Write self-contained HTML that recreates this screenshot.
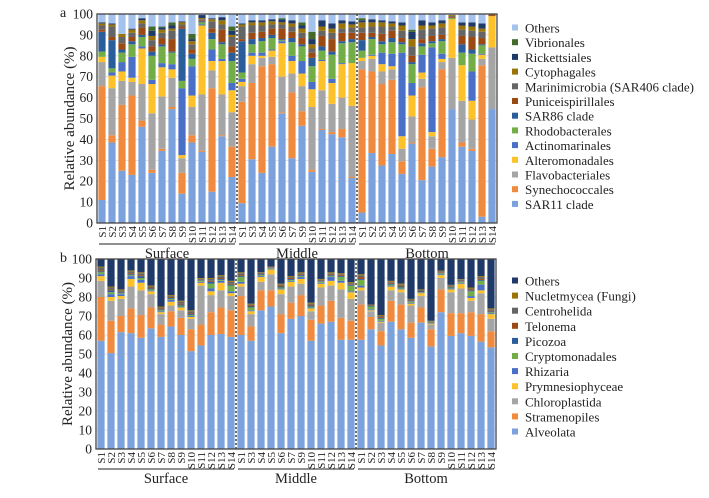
<!DOCTYPE html>
<html><head><meta charset="utf-8"><style>
html,body{margin:0;padding:0;background:#fff;}
svg{display:block;font-family:"Liberation Serif",serif;}
</style></head><body>
<svg id="chart" width="709" height="498" viewBox="0 0 709 498" xmlns="http://www.w3.org/2000/svg"></svg>
<script>
// ---- shared categories ----
const samplesS = ["S1","S2","S3","S4","S5","S6","S7","S8","S9","S10","S11","S12","S13","S14"];
const samplesM = ["S1","S3","S4","S5","S6","S7","S9","S10","S11","S12","S13","S14"];
const samplesB = ["S1","S2","S3","S4","S5","S6","S7","S8","S9","S10","S11","S12","S13","S14"];
const groups = ["Surface","Middle","Bottom"];
const yTicks = [0,10,20,30,40,50,60,70,80,90,100];

// ---- panel a series (bottom to top) ----
const aNames = ["SAR11 clade","Synechococcales","Flavobacteriales","Alteromonadales","Actinomarinales","Rhodobacterales","SAR86 clade","Puniceispirillales","Marinimicrobia (SAR406 clade)","Cytophagales","Rickettsiales","Vibrionales","Others"];
const aColors = ["#7ba2dc","#ef8a3f","#a5a5a5","#fdc12c","#4a6fc6","#72ad48","#2c5d9b","#9c4a14","#656565","#9a7408","#1f3a68","#44692c","#a4c2ec"];
const aSar11 = [11,38.5,25,23,46,24,34.5,54.5,14,38.5,34,15,41.5,22, 9.5,30.5,24,36.5,52.5,31,46.5,24.5,44.5,42.5,41,21.5, 5,33.5,27.5,33,23.5,38,20.5,27,31.5,54.5,36.5,34.5,3,54.5];
const aSyn = [54.5,3.5,31.5,38,3,1.5,1,1,10,3.5,0.5,49.5,0.5,14.5, 48.5,36.5,51,39.5,0.5,31.5,7,1,0.5,1,4,0.5, 68.5,39,39,35.5,6,0.5,44.5,8.5,42,0,2,1,72.5,0];
const aFlavo = [11.5,22.5,11.5,6.5,17.5,27,25,14,7,13.5,27,8.5,19.5,16.5, 7.5,9,4,3.5,17,9,12,30,18.5,13.5,15,34, 4,6,6,5,6,12.5,4,6,3.5,24.5,20,14,3,29.5];
const aAltero = [2.5,6,4.5,2,17,14,14,4,1.5,5.5,33,4.5,16,10.5, 2,4,1,3,16,6,6,8.5,14,10,16,20.5, 1.5,1.5,3.5,1.5,6,10,3,2,1.5,18.5,17,9,2,15];
const aActino = [0,1.5,4.5,10,1,2,2,2.5,32,14,0.5,5.5,1,3.5, 1.5,1.5,1.5,0.5,1,2.5,6,3.5,0.5,2,0.5,0, 0,0.5,5.5,6,40,6,8.5,40.5,2.5,0,0,14,0.5,0];
const aRhodo = [2.5,2,4.5,6,4.5,11.5,8,5.5,3.5,3.5,1,5,7,10.5, 3,4,5.5,5.5,0.5,6.5,7,7.5,4.5,11.5,9.5,10, 3.5,7.5,4,5.5,4,9,4,2,6,0.5,6,8.5,4,0];
const aSar86 = [9.5,13.5,1.5,1.5,1,2,1,0.5,25,2.5,0.5,3,1,4, 15,2.5,1.5,1.5,0.5,2,1,4,2,1.5,1,1.5, 5,1,1.5,2,1,1,1.5,1,1,0,4,2,0.5,0];
const aPunic = [1,1.5,3,2,3.5,2.5,3,6,1,2,0.5,2,6,3, 1,3,3,3,5,3,3,2.5,5,6,4,3, 3.5,2,3.5,3.5,2,3,2,2.5,2,0.5,4,6,3,0.5];
const aMarini = [2,5,3,2,2,3,2.5,4,1,2.5,0.5,3.5,2.5,4.5, 6,3.5,3,2,2,2.5,2.5,2,2.5,3,2,2.5, 2.5,3,3.5,2,3.5,4.5,4.5,3.5,3.5,0.5,3,3,3,0];
const aCyto = [1,1,1.5,1.5,1.5,2,1.5,1,1,1.5,0.5,1,2,1, 1,1.5,1.5,1.5,1,1.5,2,2,2,2,2.5,1.5, 2.5,2,2,1.5,2.5,3.5,2,1.5,2,0.5,2,2,1.5,0.3];
const aRick = [0.5,0.5,0,0.5,1,2.5,1,1.5,0.5,1,1.5,0.5,1.5,2, 0.5,1,1,1,1.5,1.5,1.5,2.5,3,2.5,1.5,1.5, 1,1.5,1,1,1.5,3.5,2.5,1.5,1.5,0,1.5,2,2.5,0];
const aVibrio = [0,0,0,0,0,2,0.5,1.5,0,2.5,0,0,0,2, 0,0,0,0,0.5,0,1.5,3.5,0,0,0,0, 1,0,0,0,0,1,0,0,0,0,0,0,0,0.2];

// ---- panel b series (bottom to top) ----
const bNames = ["Alveolata","Stramenopiles","Chloroplastida","Prymnesiophyceae","Rhizaria","Cryptomonadales","Picozoa","Telonema","Centrohelida","Nucletmycea (Fungi)","Others"];
const bColors = ["#7ba2dc","#ef8a3f","#a5a5a5","#fdc12c","#4a6fc6","#72ad48","#2c5d9b","#9c4a14","#656565","#9a7408","#1f3a68"];
const bAlv = [57,50.5,61.5,61,58.5,63.5,59,64.5,60,51.5,54.5,60,60.5,59, 60,57,73,75,61,68.5,70,57,66,67,57.5,57.5, 57.5,63,54.5,67,63,58.5,66.5,54,72,59.5,61,59.5,56.5,53.5];
const bStram = [23,17,8.5,13,12,11,6.5,8,9,11.5,11,12,14,14, 20.5,7.5,10.5,8.5,10,8.5,11,11,9.5,11,11.5,10, 18.5,6.5,7.5,11,13,8,8,9,12,12,10.5,12.5,14.5,8.5];
const bChloro = [8.5,10.5,9,11.5,13,7,5.5,3,4,5.5,20.5,9,9,7.5, 5,6.5,4.5,8.5,10.5,8.5,6,4.5,9.5,8,15,11.5, 7.5,3,4.5,5.5,6.5,9,6,2.5,6,11,13,6,11,6.5];
const bPrym = [2.5,2,1.5,4,4,1.5,1,2,1.5,1,1.5,2,4,1.5, 1.5,1.5,2.5,2.5,2.5,2.5,2.5,1.5,2,2.5,3.5,3.5, 1.5,0.5,0.5,2,1.5,1,1.5,0.5,1.5,1.5,2.5,1.5,1.5,2.5];
const bRhiz = [1,1.5,1,1.5,1.5,0.5,0.5,1,0.5,0.5,0.5,1.5,1,1, 1,0.5,0.5,0.3,0.5,0.5,1,0.5,0.5,2,1,0.5, 1,0.5,0.5,0.5,0.5,0.5,0.3,0.3,0.5,0.5,0.5,1,3,0.5];
const bCrypto = [1,1,0.5,0.5,1,0.5,0.5,0.5,0.5,0.5,0.5,2.5,0.5,3, 2.5,1.5,0.5,0.3,0.5,0.5,0.5,0.5,0.5,0.5,2,3, 3,1.5,1,0.5,0.5,0.5,0.3,0.3,0.5,0.5,0.5,2.5,2,0.5];
const bPico = [0.5,1,0.5,0.5,1,0.5,0.5,0.5,0.5,0.5,0.3,1,0.5,0.5, 0.5,0.5,0.5,0.3,0.5,0.5,0.5,0.5,0.3,0.5,0.5,0.5, 0.5,0.3,0.5,0.5,0.5,0.3,0.3,0.2,0.3,0.3,0.3,0.5,0.5,0.5];
const bTelo = [0.5,0.5,0.3,0.5,0.5,0.5,0.5,0.5,0.5,0.5,0.3,0.5,0.5,0.5, 0.5,0.5,0.3,0.2,0.5,0.5,0.5,0.5,0.3,0.5,0.5,0.3, 1,0.2,0.5,0.5,0.5,0.3,0.3,0.2,0.3,0.3,0.3,0.5,0.5,0.5];
const bCentro = [1.5,1,0.7,1,1,0.5,0.5,0.5,1,1,0.5,1,1,1, 1,0.5,0.4,0.2,0.5,0.5,0.5,0.5,0.5,0.5,0.5,0.5, 1,0.3,0.5,0.5,0.5,0.6,0.5,0.3,0.5,0.5,0.5,0.5,1,0.5];
const bNucle = [0.5,0.5,0.5,0.5,0.5,0.5,0.5,0.5,0.5,0.5,0.4,0.5,0.5,0.5, 0.5,0.5,0.3,0.2,0.5,0.5,0.5,0.5,0.4,0.5,0.5,0.5, 0.5,0.2,0.5,0.5,0.5,0.3,0.3,0.2,0.3,0.3,0.3,0.5,0.5,0.5];

const NS="http://www.w3.org/2000/svg";
const svg=document.getElementById('chart');
function mk(tag,attrs,parent){const e=document.createElementNS(NS,tag);for(const k in attrs)e.setAttribute(k,attrs[k]);(parent||svg).appendChild(e);return e;}

function panel(cfg){
  const g=mk('g',{});
  
  
  const x0=cfg.x0,x1=cfg.x1,yT=cfg.yT,yB=cfg.yB;
  const yScale=v=>yB-(v/100)*(yB-yT);
  const samples=samplesS.concat(samplesM,samplesB);
  const n=samples.length, pitch=(x1-x0)/n, bw=pitch*0.72;
  const xScale=i=>x0+i*pitch+(pitch-bw)/2;
  yTicks.forEach(t=>{
    const y=yScale(t);
    const gl=mk('line',{x1:x0,x2:x1,y1:y,y2:y,stroke:'#d9d9d9','stroke-width':0.8},g);
    
    
    const tx=mk('text',{x:x0-4,y:y+4.5,'text-anchor':'end','font-size':13.5,fill:'#222'},g);
    tx.textContent=t;
    
    
  });
  for(let i=0;i<n;i++){
    let cum=0;
    const bg=mk('g',{},g);
    
    
    const vals=cfg.series.map(s=>s[i]);
    const rest=Math.max(0,100-vals.reduce((a,b)=>a+b,0));
    vals.push(rest);
    vals.forEach((v,k)=>{
      if(v<=0)return;
      const yt=yScale(cum+v), yb=yScale(cum);
      const r=mk('rect',{x:xScale(i),y:yt,width:bw,height:Math.max(0,yb-yt),fill:cfg.colors[k]},bg);
      
      
      cum+=v;
    });
  }
  const fr=mk('rect',{x:x0,y:yT,width:x1-x0,height:yB-yT,fill:'none',stroke:'#444','stroke-width':1.3},g);
  
  
  [samplesS.length, samplesS.length+samplesM.length].forEach(k=>{
    const x=x0+k*pitch;
    const d=mk('line',{x1:x,x2:x,y1:yT,y2:yB,stroke:'#333','stroke-width':1.4,'stroke-dasharray':'2,2'},g);
    
    
  });
  samples.forEach((s,i)=>{
    const cx=x0+i*pitch+pitch/2+4;
    const t=mk('text',{x:0,y:0,'font-size':11,fill:'#222','text-anchor':'end',transform:`translate(${cx},${yB+3}) rotate(-90)`},g);
    t.textContent=s;
    
    
  });
  const counts=[samplesS.length,samplesM.length,samplesB.length];
  let start=0;
  groups.forEach((gn,k)=>{
    const xa=x0+start*pitch+2, xb=x0+(start+counts[k])*pitch-2;
    const l=mk('line',{x1:xa,x2:xb,y1:cfg.lineY,y2:cfg.lineY,stroke:'#222','stroke-width':1},g);
    
    
    const t=mk('text',{x:(xa+xb)/2,y:cfg.lineY+14,'text-anchor':'middle','font-size':14.5,fill:'#222'},g);
    t.textContent=gn;
    
    
    start+=counts[k];
  });
  const yt=mk('text',{x:0,y:0,'text-anchor':'middle','font-size':15,fill:'#222',transform:`translate(${cfg.titleX},${(yT+yB)/2}) rotate(-90)`},g);
  yt.textContent='Relative abundance (%)';
  
  
  const pl=mk('text',{x:cfg.letterX,y:cfg.letterY,'font-size':14,fill:'#222'},g);
  pl.textContent=cfg.id;
  
  
  const names=cfg.names.slice().reverse(), cols=cfg.colors.slice().reverse();
  names.forEach((nm,k)=>{
    const y=cfg.legY+k*cfg.legStep;
    const lg=mk('g',{},g);
    
    
    mk('rect',{x:cfg.legX,y:y-3.5,width:6,height:6,fill:cols[k]},lg);
    const t=mk('text',{x:cfg.legX+13,y:y+4.5,'font-size':13,fill:'#222'},lg);
    t.textContent=nm;
  });
}

panel({id:'a',x0:97,x1:497,yT:14,yB:223,lineY:244,titleX:74,letterX:60,letterY:17,
  series:[aSar11,aSyn,aFlavo,aAltero,aActino,aRhodo,aSar86,aPunic,aMarini,aCyto,aRick,aVibrio],
  names:aNames,colors:aColors,legX:512,legY:28,legStep:14.7});
panel({id:'b',x0:96,x1:496,yT:259,yB:449,lineY:469,titleX:72,letterX:60,letterY:262,
  series:[bAlv,bStram,bChloro,bPrym,bRhiz,bCrypto,bPico,bTelo,bCentro,bNucle],
  names:bNames,colors:bColors,legX:512,legY:281,legStep:15.1});
</script>
</body></html>
